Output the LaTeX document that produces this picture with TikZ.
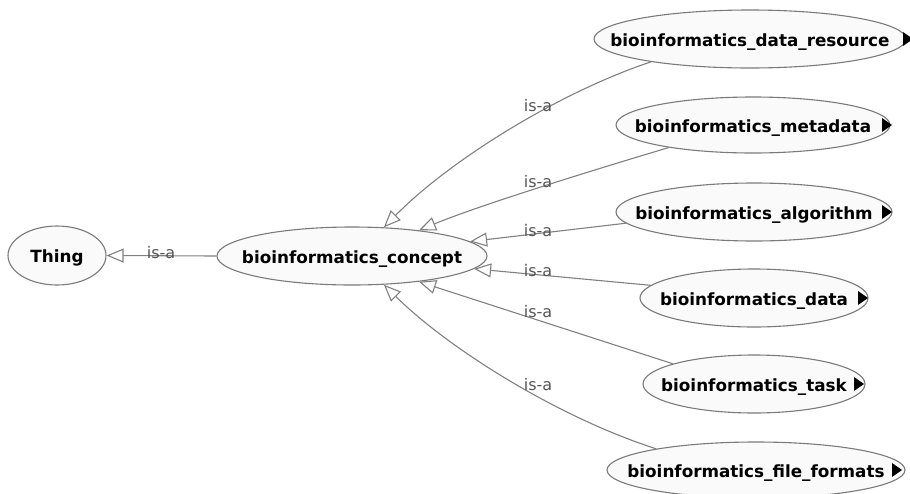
\documentclass[tikz,border=0pt]{standalone}
\usepackage{fontspec}
\setmainfont{DejaVu Sans}
\usetikzlibrary{shapes.geometric,arrows.meta}
\definecolor{edgegray}{HTML}{808080}
\definecolor{nodefill}{HTML}{FAFAFA}
\definecolor{nodeline}{HTML}{7A7A7A}
\definecolor{labelgray}{HTML}{555555}
% class name set in a zero-width box so the ellipse keeps its given size
\newcommand\cname[1]{\makebox[0pt]{#1}}
% black "expand" marker at the right end of a class
\newcommand\moremark[2]{\fill ([shift={(#2,-7)}]#1.center) -- ++(0,14) -- ++(10,-7) -- cycle;}

\begin{document}
\begin{tikzpicture}[x=1pt,y=-1pt,
  cls/.style={ellipse, draw=nodeline, fill=nodefill, line width=1.1pt, inner sep=0pt,
    text height=15pt, text depth=1pt, font=\fontsize{16.8}{18}\selectfont\bfseries},
  link/.style={draw=edgegray, line width=1.1pt, -{Triangle[open,length=17pt,width=14pt]}},
  edgelabel/.style={anchor=base, inner sep=0pt, text=labelgray, font=\fontsize{16}{18}\selectfont}
]
\useasboundingbox (0,0) rectangle (910,493);

% classes
\node[cls, minimum width=98pt,  minimum height=59pt] (thing)   at (57,255.5) {\cname{Thing}};
\node[cls, minimum width=270pt, minimum height=58pt] (concept) at (352,256) {\cname{bioinformatics\_concept}};
\node[cls, minimum width=312pt, minimum height=58pt] (res)  at (750,39)  {\cname{bioinformatics\_data\_resource}};
\node[cls, minimum width=274pt, minimum height=56pt] (meta) at (753,125) {\cname{bioinformatics\_metadata}};
\node[cls, minimum width=276pt, minimum height=58pt] (algo) at (754,212) {\cname{bioinformatics\_algorithm}};
\node[cls, minimum width=228pt, minimum height=58pt] (data) at (754,298) {\cname{bioinformatics\_data}};
\node[cls, minimum width=222pt, minimum height=58pt] (task) at (754,384) {\cname{bioinformatics\_task}};
\node[cls, minimum width=298pt, minimum height=56pt] (ff)   at (756,470) {\cname{bioinformatics\_file\_formats}};

\moremark{res}{153}
\moremark{meta}{129}
\moremark{algo}{128}
\moremark{data}{104}
\moremark{task}{100}
\moremark{ff}{136}

% subclass links
\draw[link] (res.193) .. controls (560,92) and (450,160) .. (concept.42);
\draw[link] (meta.195) .. controls (600,168) and (480,205) .. (concept.21);
\draw[link] (algo.185) -- (concept.7);
\draw[link] (data.173) -- (concept.354);
\draw[link] (task.166) -- (concept.339);
\draw[link] (ff.168) .. controls (560,418) and (450,350) .. (concept.318);
\draw[link] (concept.west) -- (thing.east);

% link labels
\node[edgelabel] (lres)  at (538,111) {is-a};
\node[edgelabel] (lmeta) at (538,187) {is-a};
\node[edgelabel] (lalgo) at (538,236) {is-a};
\node[edgelabel] (ldata) at (538,276) {is-a};
\node[edgelabel] (ltask) at (538,317) {is-a};
\node[edgelabel] (lff)   at (538,390) {is-a};
\node[edgelabel] (lthing) at (161,258) {is-a};
\end{tikzpicture}
\end{document}
